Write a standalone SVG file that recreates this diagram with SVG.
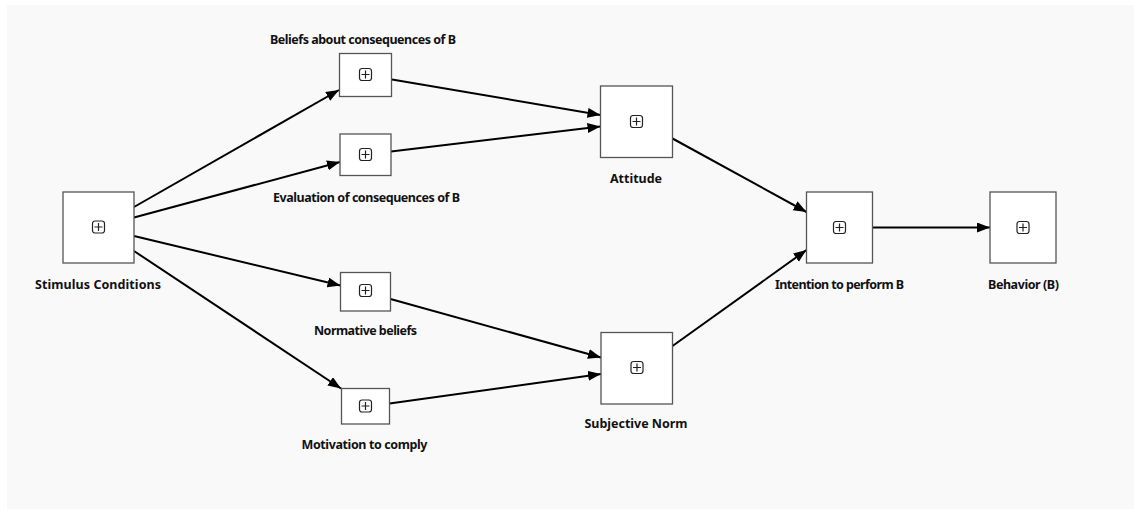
<svg xmlns="http://www.w3.org/2000/svg" width="1134" height="509" viewBox="0 0 1134 509">
  <defs>
    <marker id="arrow" markerUnits="userSpaceOnUse" markerWidth="14" markerHeight="11" refX="13" refY="5" orient="auto">
      <path d="M0,0 L13,5 L0,10 z" fill="#000"/>
    </marker>
    <!-- collapsed-subprocess marker drawn in every task box -->
    <g id="plus">
      <rect x="-6" y="-6" width="12" height="12" rx="2.5" fill="#fff" stroke="#222" stroke-width="1.2"/>
      <path d="M-4,0 H4 M0,-4 V4" stroke="#222" stroke-width="1.2"/>
    </g>
  </defs>
  <style>
    .box { fill: #fff; stroke: #555; stroke-width: 1.3; }
    .lbl { font-family: "Noto Sans", "Open Sans", sans-serif; font-weight: bold; font-size: 12.5px; fill: #111; text-anchor: middle; }
    .edge { fill: none; stroke: #000; stroke-width: 2; marker-end: url(#arrow); }
  </style>

  <rect x="0" y="0" width="1134" height="509" fill="#fff"/>
  <rect x="7" y="5" width="1127" height="504" fill="#f9f9f9"/>

  <g id="connectors">
    <line class="edge" x1="134" y1="207" x2="339" y2="90"/>
    <line class="edge" x1="134" y1="217.5" x2="340" y2="162"/>
    <line class="edge" x1="134" y1="236" x2="340.5" y2="285.5"/>
    <line class="edge" x1="134" y1="251" x2="341" y2="388.5"/>
    <line class="edge" x1="392" y1="79.5" x2="600.5" y2="115"/>
    <line class="edge" x1="391" y1="151.5" x2="600.5" y2="126.5"/>
    <line class="edge" x1="672.5" y1="138.5" x2="806.5" y2="212"/>
    <line class="edge" x1="672.5" y1="346" x2="806.5" y2="250"/>
    <line class="edge" x1="390.5" y1="299" x2="601" y2="357.5"/>
    <line class="edge" x1="389.5" y1="403.5" x2="601" y2="374"/>
    <line class="edge" x1="872.5" y1="227.5" x2="990" y2="227.5"/>
  </g>

  <g id="stimulus">
    <rect class="box" x="63" y="192" width="71" height="71"/>
    <use href="#plus" x="98.5" y="227"/>
    <text class="lbl" x="98" y="288.5" textLength="126">Stimulus Conditions</text>
  </g>

  <g id="beliefs">
    <rect class="box" x="339.5" y="53.5" width="52" height="43"/>
    <use href="#plus" x="365.5" y="74.5"/>
    <text class="lbl" x="363" y="43.5" textLength="186">Beliefs about consequences of B</text>
  </g>

  <g id="evaluation">
    <rect class="box" x="340" y="134" width="51" height="41.5"/>
    <use href="#plus" x="365.5" y="154.5"/>
    <text class="lbl" x="366.5" y="202" textLength="187">Evaluation of consequences of B</text>
  </g>

  <g id="normative">
    <rect class="box" x="340.5" y="272.5" width="50" height="38.5"/>
    <use href="#plus" x="365.5" y="290.5"/>
    <text class="lbl" x="365.5" y="335" textLength="103">Normative beliefs</text>
  </g>

  <g id="motivation">
    <rect class="box" x="341.5" y="388.5" width="48" height="35.5"/>
    <use href="#plus" x="365.5" y="406"/>
    <text class="lbl" x="364.5" y="449" textLength="126">Motivation to comply</text>
  </g>

  <g id="attitude">
    <rect class="box" x="600.5" y="86" width="72" height="71.5"/>
    <use href="#plus" x="636.5" y="121.5"/>
    <text class="lbl" x="636" y="183" textLength="52">Attitude</text>
  </g>

  <g id="subjective-norm">
    <rect class="box" x="601" y="332.5" width="71.5" height="71.5"/>
    <use href="#plus" x="637" y="367.5"/>
    <text class="lbl" x="636" y="428" textLength="103">Subjective Norm</text>
  </g>

  <g id="intention">
    <rect class="box" x="806.5" y="192" width="66" height="71"/>
    <use href="#plus" x="839.5" y="227.5"/>
    <text class="lbl" x="839.5" y="288.5" textLength="129">Intention to perform B</text>
  </g>

  <g id="behavior">
    <rect class="box" x="990" y="192" width="66" height="71"/>
    <use href="#plus" x="1023" y="227.5"/>
    <text class="lbl" x="1023.5" y="288.5" textLength="71">Behavior (B)</text>
  </g>
</svg>
